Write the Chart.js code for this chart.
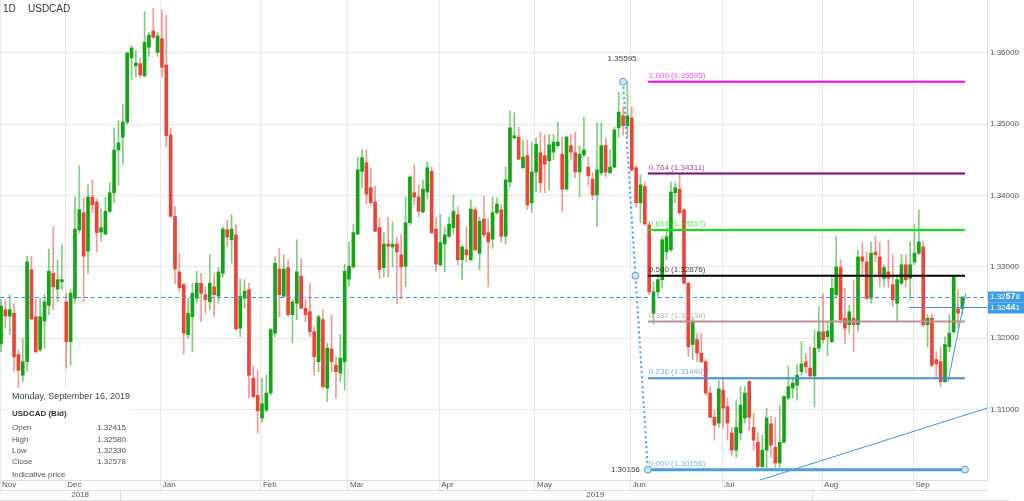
<!DOCTYPE html>
<html>
<head>
<meta charset="utf-8">
<script src="https://cdn.jsdelivr.net/npm/chart.js@4.4.0/dist/chart.umd.min.js"></script>
<style>
  html, body { margin: 0; padding: 0; background: #fff; }
  #wrap { width: 1024px; height: 501px; }
</style>
</head>
<body>
<div id="wrap"><canvas id="chart" width="1024" height="501"></canvas></div>
<script>
// USDCAD daily, mid Nov 2018 -> 16 Sep 2019 (one entry per trading day)
const opens = [
  1.3192,1.3240,1.3231,1.3235,1.3177,1.3148,1.3167,1.3296,1.3230,1.3184,
  1.3224,1.3246,1.3291,1.3269,1.3279,1.3251,1.3195,1.3256,1.3352,1.3376,
  1.3322,1.3398,1.3391,1.3349,1.3346,1.3378,1.3404,1.3464,1.3482,1.3503,
  1.3593,1.3582,1.3585,1.3568,1.3608,1.3631,1.3601,1.3620,1.3583,1.3485,
  1.3371,1.3293,1.3275,1.3205,1.3230,1.3256,1.3277,1.3261,1.3251,1.3272,
  1.3259,1.3291,1.3352,1.3338,1.3345,1.3214,1.3256,1.3268,1.3144,1.3120,
  1.3088,1.3099,1.3123,1.3207,1.3297,1.3259,1.3299,1.3233,1.3249,1.3287,
  1.3242,1.3237,1.3209,1.3167,1.3226,1.3130,1.3185,1.3162,1.3151,1.3167,
  1.3283,1.3300,1.3346,1.3434,1.3446,1.3411,1.3391,1.3355,1.3299,1.3332,
  1.3328,1.3332,1.3317,1.3301,1.3362,1.3404,1.3398,1.3377,1.3405,1.3434,
  1.3353,1.3303,1.3332,1.3343,1.3355,1.3373,1.3310,1.3324,1.3310,1.3380,
  1.3319,1.3367,1.3348,1.3339,1.3376,1.3380,1.3343,1.3419,1.3481,1.3482,
  1.3439,1.3456,1.3390,1.3433,1.3460,1.3456,1.3449,1.3461,1.3470,1.3458,
  1.3409,1.3470,1.3460,1.3433,1.3457,1.3440,1.3423,1.3401,1.3432,1.3470,
  1.3432,1.3440,1.3495,1.3512,1.3498,1.3509,1.3439,1.3390,1.3413,1.3359,
  1.3235,1.3265,1.3282,1.3321,1.3324,1.3404,1.3409,1.3380,1.3277,1.3191,
  1.3198,1.3179,1.3167,1.3123,1.3089,1.3081,1.3127,1.3104,1.3067,1.3043,
  1.3067,1.3088,1.3139,1.3075,1.3054,1.3020,1.3043,1.3080,1.3047,1.3025,
  1.3054,1.3116,1.3130,1.3134,1.3153,1.3167,1.3158,1.3147,1.3186,1.3209,
  1.3202,1.3195,1.3261,1.3299,1.3228,1.3219,1.3228,1.3219,1.3314,1.3307,
  1.3256,1.3321,1.3314,1.3284,1.3293,1.3275,1.3249,1.3277,1.3303,1.3284,
  1.3307,1.3319,1.3328,1.3219,1.3228,1.3170,1.3167,1.3139,1.3188,1.3209,
  1.3241,1.32415
];
const highs = [
  1.3254,1.3254,1.3261,1.3249,1.3184,1.3199,1.3315,1.3315,1.3254,1.3256,
  1.3261,1.3325,1.3356,1.3310,1.3331,1.3263,1.3268,1.3398,1.3442,1.3397,
  1.3415,1.3422,1.3395,1.3381,1.3398,1.3418,1.3495,1.3505,1.3528,1.3601,
  1.3610,1.3604,1.3593,1.3658,1.3629,1.3663,1.3629,1.3660,1.3653,1.3495,
  1.3385,1.3319,1.3277,1.3256,1.3277,1.3294,1.3291,1.3272,1.3317,1.3291,
  1.3299,1.3356,1.3366,1.3373,1.3360,1.3283,1.3282,1.3277,1.3161,1.3155,
  1.3144,1.3148,1.3214,1.3314,1.3326,1.3317,1.3310,1.3254,1.3338,1.3311,
  1.3254,1.3277,1.3216,1.3233,1.3240,1.3193,1.3233,1.3174,1.3205,1.3304,
  1.3335,1.3360,1.3454,1.3465,1.3464,1.3439,1.3413,1.3369,1.3348,1.3370,
  1.3363,1.3342,1.3345,1.3398,1.3428,1.3443,1.3415,1.3422,1.3448,1.3440,
  1.3369,1.3373,1.3356,1.3370,1.3401,1.3384,1.3331,1.3356,1.3394,1.3384,
  1.3370,1.3399,1.3367,1.3398,1.3397,1.3387,1.3440,1.3519,1.3516,1.3496,
  1.3477,1.3478,1.3475,1.3481,1.3489,1.3485,1.3486,1.3486,1.3503,1.3482,
  1.3484,1.3486,1.3489,1.3470,1.3510,1.3454,1.3432,1.3502,1.3502,1.3481,
  1.3464,1.3496,1.3545,1.3524,1.35595,1.3524,1.3442,1.3429,1.3419,1.3363,
  1.3279,1.3289,1.3342,1.3355,1.3419,1.3418,1.3430,1.3381,1.3279,1.3228,
  1.3207,1.3207,1.3170,1.3132,1.3099,1.3141,1.3144,1.3116,1.3075,1.3113,
  1.3132,1.3132,1.3141,1.3095,1.3067,1.3064,1.3102,1.3091,1.3088,1.3106,
  1.3119,1.3161,1.3143,1.3163,1.3195,1.3179,1.3188,1.3212,1.3244,1.3262,
  1.3223,1.3289,1.3343,1.3310,1.3270,1.3246,1.3282,1.3324,1.3335,1.3321,
  1.3335,1.3343,1.3335,1.3303,1.3338,1.3317,1.3289,1.3317,1.3317,1.3335,
  1.3359,1.3380,1.3335,1.3233,1.3233,1.3181,1.3188,1.3202,1.3233,1.3287,
  1.3268,1.3258
];
const lows = [
  1.3181,1.3214,1.3205,1.3154,1.3130,1.3139,1.3154,1.3226,1.3179,1.3181,
  1.3186,1.3233,1.3240,1.3251,1.3268,1.3158,1.3162,1.3249,1.3348,1.3251,
  1.3291,1.3376,1.3321,1.3336,1.3345,1.3376,1.3390,1.3415,1.3444,1.3500,
  1.3563,1.3566,1.3566,1.3566,1.3595,1.3620,1.3595,1.3566,1.3468,1.3370,
  1.3276,1.3265,1.3178,1.3200,1.3181,1.3249,1.3223,1.3235,1.3240,1.3230,
  1.3249,1.3286,1.3328,1.3305,1.3211,1.3202,1.3242,1.3116,1.3116,1.3067,
  1.3082,1.3096,1.3120,1.3202,1.3230,1.3258,1.3231,1.3193,1.3226,1.3242,
  1.3223,1.3202,1.3148,1.3153,1.3130,1.3111,1.3153,1.3116,1.3139,1.3127,
  1.3273,1.3298,1.3345,1.3411,1.3388,1.3388,1.3349,1.3284,1.3286,1.3286,
  1.3300,1.3248,1.3255,1.3272,1.3359,1.3387,1.3370,1.3376,1.3395,1.3346,
  1.3294,1.3301,1.3293,1.3341,1.3346,1.3303,1.3282,1.3307,1.3308,1.3322,
  1.3296,1.3342,1.3272,1.3326,1.3374,1.3334,1.3332,1.3412,1.3479,1.3450,
  1.3438,1.3380,1.3376,1.3405,1.3404,1.3404,1.3408,1.3450,1.3468,1.3377,
  1.3408,1.3450,1.3425,1.3398,1.3454,1.3415,1.3394,1.3356,1.3429,1.3426,
  1.3431,1.3439,1.3482,1.3485,1.3482,1.3434,1.3384,1.3362,1.3359,1.3261,
  1.3220,1.3258,1.3271,1.3310,1.3321,1.3390,1.3373,1.3276,1.3174,1.3170,
  1.3167,1.3166,1.3120,1.3089,1.3057,1.3075,1.3074,1.3057,1.3036,1.3033,
  1.3057,1.3081,1.3071,1.3043,1.30156,1.3016,1.3018,1.3033,1.3019,1.3016,
  1.3053,1.3113,1.3116,1.3113,1.3148,1.3151,1.3144,1.3104,1.3181,1.3193,
  1.3175,1.3194,1.3258,1.3221,1.3193,1.3207,1.3181,1.3209,1.3289,1.3254,
  1.3249,1.3307,1.3272,1.3272,1.3271,1.3244,1.3223,1.3275,1.3272,1.3254,
  1.3303,1.3317,1.3216,1.3188,1.3160,1.3146,1.3132,1.3138,1.3181,1.3207,
  1.3214,1.3233
];
const closes = [
  1.3245,1.3231,1.3240,1.3174,1.3155,1.3167,1.3307,1.3227,1.3181,1.3230,
  1.3251,1.3294,1.3272,1.3282,1.3282,1.3195,1.3263,1.3353,1.3380,1.3315,
  1.3398,1.3387,1.3348,1.3355,1.3378,1.3404,1.3464,1.3474,1.3503,1.3600,
  1.3607,1.3586,1.3569,1.3615,1.3625,1.3622,1.3624,1.3580,1.3484,1.3371,
  1.3297,1.3271,1.3207,1.3235,1.3263,1.3277,1.3263,1.3254,1.3277,1.3261,
  1.3293,1.3353,1.3342,1.3353,1.3213,1.3259,1.3266,1.3148,1.3118,1.3098,
  1.3108,1.3123,1.3212,1.3305,1.3261,1.3297,1.3233,1.3251,1.3293,1.3242,
  1.3233,1.3209,1.3174,1.3230,1.3132,1.3186,1.3167,1.3153,1.3172,1.3294,
  1.3301,1.3348,1.3436,1.3453,1.3402,1.3390,1.3350,1.3296,1.3332,1.3329,
  1.3332,1.3321,1.3300,1.3362,1.3426,1.3398,1.3378,1.3409,1.3439,1.3348,
  1.3304,1.3334,1.3345,1.3360,1.3378,1.3310,1.3328,1.3317,1.3381,1.3324,
  1.3364,1.3345,1.3335,1.3376,1.3388,1.3343,1.3422,1.3495,1.3484,1.3451,
  1.3454,1.3387,1.3433,1.3472,1.3418,1.3444,1.3471,1.3475,1.3475,1.3409,
  1.3482,1.3461,1.3433,1.3458,1.3464,1.3428,1.3401,1.3436,1.3470,1.3433,
  1.3440,1.3492,1.3517,1.3498,1.3512,1.3436,1.3390,1.3415,1.3360,1.3265,
  1.3265,1.3282,1.3338,1.3342,1.3405,1.3411,1.3376,1.3277,1.3188,1.3223,
  1.3179,1.3167,1.3123,1.3089,1.3078,1.3129,1.3102,1.3081,1.3043,1.3075,
  1.3106,1.3123,1.3089,1.3057,1.3020,1.3043,1.3088,1.3050,1.3025,1.3054,
  1.3118,1.3132,1.3137,1.3148,1.3164,1.3160,1.3147,1.3186,1.3209,1.3198,
  1.3210,1.3270,1.3300,1.3226,1.3214,1.3237,1.3219,1.3314,1.3308,1.3256,
  1.3319,1.3317,1.3286,1.3299,1.3284,1.3254,1.3282,1.3303,1.3282,1.3303,
  1.3319,1.3335,1.3219,1.3228,1.3162,1.3164,1.3139,1.3191,1.3207,1.3286,
  1.3235,1.32578
];

// axis labels
const monthLabels = ["Nov", "Dec", "Jan", "Feb", "Mar", "Apr", "May", "Jun", "Jul", "Aug", "Sep"];
const monthStart = [0, 15, 37, 60, 80, 101, 123, 145, 166, 189, 210]; // first bar of each month
const yearLabels = ["2018", "2019"];
const yearCenter = [18.2, 136.6];
const priceTicks = [1.31, 1.32, 1.33, 1.34, 1.35, 1.36];

// drawings
const fibHigh = 1.35595;
const fibLow = 1.30156;
const fibRatios = [1, 0.764, 0.618, 0.5, 0.382, 0.236, 0];
const fibColors = ["#ff00ff", "#800080", "#00ee00", "#000000", "#bc8f8f", "#3d8fd6", "#4a9ee3"];
const lastClose = 1.32578;
const sideLevel = 1.32441;
const trendA = [[174.5, 1.3001], [226.7, 1.3102]];
const trendB = [[217.7, 1.3139], [221.8, 1.3263]];

const xMin = -0.23;
const xMax = 226.66;
const FONT = "'Liberation Sans', Arial, sans-serif";
const GREEN = "#14a514";
const RED = "#ee4438";
const BLUE = "#3797ea";

const bodyColors = opens.map((o, i) => (closes[i] >= o ? GREEN : RED));
const wickColors = opens.map((o, i) => (closes[i] >= o ? "rgba(20,165,20,0.55)" : "rgba(238,68,56,0.55)"));

const overlay = {
  id: "overlay",
  afterDatasetsDraw(chart) {
    const { ctx, chartArea: a } = chart;
    const x = chart.scales.x;
    const y = chart.scales.y;
    const px = (i) => x.getPixelForValue(i);
    const py = (v) => y.getPixelForValue(v);

    ctx.save();
    ctx.beginPath();
    ctx.rect(a.left, a.top, a.right - a.left, a.bottom - a.top);
    ctx.clip();

    // last price dashed line
    ctx.strokeStyle = BLUE;
    ctx.lineWidth = 1;
    ctx.setLineDash([4, 3]);
    ctx.beginPath();
    ctx.moveTo(a.left, Math.round(py(lastClose)) + 0.5);
    ctx.lineTo(a.right, Math.round(py(lastClose)) + 0.5);
    ctx.stroke();
    ctx.setLineDash([]);

    // short horizontal line
    ctx.beginPath();
    ctx.moveTo(px(208.7), Math.round(py(sideLevel)) + 0.5);
    ctx.lineTo(a.right, Math.round(py(sideLevel)) + 0.5);
    ctx.stroke();

    // trend lines
    [trendA, trendB].forEach((t) => {
      ctx.beginPath();
      ctx.moveTo(px(t[0][0]), py(t[0][1]));
      ctx.lineTo(px(t[1][0]), py(t[1][1]));
      ctx.stroke();
    });

    // fibonacci levels
    const fx0 = px(148.7);
    const fx1 = px(221.6);
    ctx.font = "8px " + FONT;
    ctx.textBaseline = "middle";
    ctx.textAlign = "left";
    fibRatios.forEach((r, k) => {
      const v = fibLow + r * (fibHigh - fibLow);
      const yy = py(v);
      ctx.strokeStyle = fibColors[k];
      ctx.lineWidth = r === 0 ? 3 : 2;
      ctx.beginPath();
      ctx.moveTo(fx0, yy);
      ctx.lineTo(fx1, yy);
      ctx.stroke();
      ctx.globalAlpha = 0.75;
      ctx.fillStyle = fibColors[k];
      ctx.fillText(r.toFixed(3) + " (" + v.toFixed(5) + ")", fx0 + 1, yy - 6);
      ctx.globalAlpha = 1;
    });

    // dotted swing line
    const sx = px(143), sy = py(fibHigh);
    const ex = fx0, ey = py(fibLow);
    ctx.strokeStyle = "#4a9ee3";
    ctx.lineWidth = 2;
    ctx.setLineDash([2, 3]);
    ctx.beginPath();
    ctx.moveTo(sx, sy);
    ctx.lineTo(ex, ey);
    ctx.stroke();
    ctx.setLineDash([]);

    const dot = (cx, cy) => {
      ctx.beginPath();
      ctx.arc(cx, cy, 3.5, 0, Math.PI * 2);
      ctx.fillStyle = "#cfe5f8";
      ctx.fill();
      ctx.lineWidth = 1;
      ctx.strokeStyle = "#4a9ee3";
      ctx.stroke();
    };
    dot(sx, sy);
    dot((sx + ex) / 2, (sy + ey) / 2);
    dot(ex, ey);
    dot(fx1, ey);

    ctx.fillStyle = "#444";
    ctx.textAlign = "center";
    ctx.fillText(fibHigh.toFixed(5), sx - 1, sy - 23);
    ctx.textAlign = "right";
    ctx.fillText(fibLow.toFixed(5), ex - 8, ey);
    ctx.restore();
  },
  afterDraw(chart) {
    const { ctx, chartArea: a } = chart;
    const y = chart.scales.y;
    ctx.save();

    // bottom line
    ctx.strokeStyle = "#dddddd";
    ctx.lineWidth = 1;
    ctx.beginPath();
    ctx.moveTo(0, 500.5);
    ctx.lineTo(a.right + 22, 500.5);
    ctx.stroke();

    // title
    ctx.fillStyle = "#333";
    ctx.font = "10px " + FONT;
    ctx.textBaseline = "middle";
    ctx.textAlign = "left";
    ctx.fillText("1D", 3, 9);
    ctx.fillText("USDCAD", 28, 9);

    // price tags
    const tag = (v, yy) => {
      ctx.fillStyle = "#3d9be9";
      ctx.fillRect(a.right + 1, yy - 5.5, 37, 11);
      const s = v.toFixed(5);
      const parts = [s.slice(0, 4), s.slice(4, 6), s.slice(6)];
      let cx = a.right + 3;
      ctx.fillStyle = "#fff";
      parts.forEach((p, k) => {
        ctx.font = (k === 1 ? "bold 9px " : "8px ") + FONT;
        ctx.fillText(p, cx, yy);
        cx += ctx.measureText(p).width;
      });
    };
    tag(lastClose, Math.round(y.getPixelForValue(lastClose)));
    tag(sideLevel, Math.round(y.getPixelForValue(sideLevel)) + 1);

    // info box
    const last = opens.length - 1;
    ctx.fillStyle = "rgba(255,255,255,0.78)";
    ctx.fillRect(8, 388, 125, 92);
    ctx.fillStyle = "#444";
    ctx.font = "9px " + FONT;
    ctx.fillText("Monday, September 16, 2019", 12, 397);
    ctx.font = "bold 8px " + FONT;
    ctx.fillStyle = "#333";
    ctx.fillText("USDCAD (Bid)", 12, 414);
    ctx.font = "8px " + FONT;
    ctx.fillStyle = "#555";
    const rows = [["Open", opens[last]], ["High", highs[last]], ["Low", lows[last]], ["Close", closes[last]]];
    rows.forEach((r, k) => {
      const yy = 428 + k * 11.3;
      ctx.textAlign = "left";
      ctx.fillText(r[0], 12, yy);
      ctx.textAlign = "right";
      ctx.fillText(r[1].toFixed(5), 126, yy);
    });
    ctx.textAlign = "left";
    ctx.fillText("Indicative price", 12, 475);
    ctx.restore();
  }
};

const ctx = document.getElementById("chart").getContext("2d");

new Chart(ctx, {
  type: "bar",
  data: {
    datasets: [
      {
        label: "body",
        data: opens.map((o, i) => ({ x: i, y: [o, closes[i]] })),
        backgroundColor: bodyColors,
        barThickness: 3,
        minBarLength: 1,
        grouped: false,
        borderWidth: 0,
        order: 0,
      },
      {
        label: "wick",
        data: lows.map((l, i) => ({ x: i, y: [l, highs[i]] })),
        backgroundColor: wickColors,
        barThickness: 1,
        grouped: false,
        borderWidth: 0,
        order: 1,
      },
    ],
  },
  options: {
    responsive: false,
    animation: false,
    devicePixelRatio: 1,
    layout: { padding: 0 },
    plugins: {
      legend: { display: false },
      tooltip: { enabled: false },
    },
    scales: {
      x: {
        type: "linear",
        position: "bottom",
        min: xMin,
        max: xMax,
        offset: false,
        weight: 0,
        afterBuildTicks: (s) => {
          s.ticks = monthStart.map((m, k) => ({ value: k === 0 ? xMin : m - 0.25 }));
        },
        afterFit: (s) => {
          s.height = 10;
          s.paddingLeft = 0;
          s.paddingRight = 0;
        },
        grid: { color: "#e6e6e6", offset: false, drawTicks: true, tickLength: 10 },
        border: { display: true, color: "#dddddd" },
        ticks: {
          autoSkip: false,
          maxRotation: 0,
          minRotation: 0,
          align: "start",
          labelOffset: 2,
          padding: -10,
          color: "#555",
          font: { family: FONT, size: 8 },
          callback: (v, i) => monthLabels[i],
        },
      },
      x2: {
        type: "linear",
        axis: "x",
        position: "bottom",
        min: xMin,
        max: xMax,
        offset: false,
        weight: 1,
        afterBuildTicks: (s) => {
          s.ticks = [
            { value: xMin },
            { value: yearCenter[0] },
            { value: monthStart[2] - 0.25 },
            { value: yearCenter[1] },
          ];
        },
        afterFit: (s) => {
          s.height = 11;
          s.paddingLeft = 0;
          s.paddingRight = 0;
        },
        grid: {
          drawOnChartArea: false,
          tickLength: 10,
          color: (c) => (c.index === 1 || c.index === 3 ? "rgba(0,0,0,0)" : "#dddddd"),
        },
        border: { display: true, color: "#dddddd" },
        ticks: {
          autoSkip: false,
          maxRotation: 0,
          minRotation: 0,
          padding: -10,
          color: "#555",
          font: { family: FONT, size: 8 },
          callback: (v, i) => (i === 1 ? yearLabels[0] : i === 3 ? yearLabels[1] : ""),
        },
      },
      y: {
        type: "linear",
        position: "right",
        min: 1.30011,
        max: 1.36743,
        afterBuildTicks: (s) => {
          s.ticks = priceTicks.map((v) => ({ value: v }));
        },
        afterFit: (s) => {
          s.width = 37;
          s.paddingTop = 0;
          s.paddingBottom = 0;
        },
        grid: { color: "#e6e6e6", drawTicks: false },
        border: { display: true, color: "#dddddd" },
        ticks: {
          padding: 3,
          color: "#555",
          font: { family: FONT, size: 8 },
          callback: (v) => v.toFixed(5),
        },
      },
    },
  },
  plugins: [overlay],
});
</script>
</body>
</html>
